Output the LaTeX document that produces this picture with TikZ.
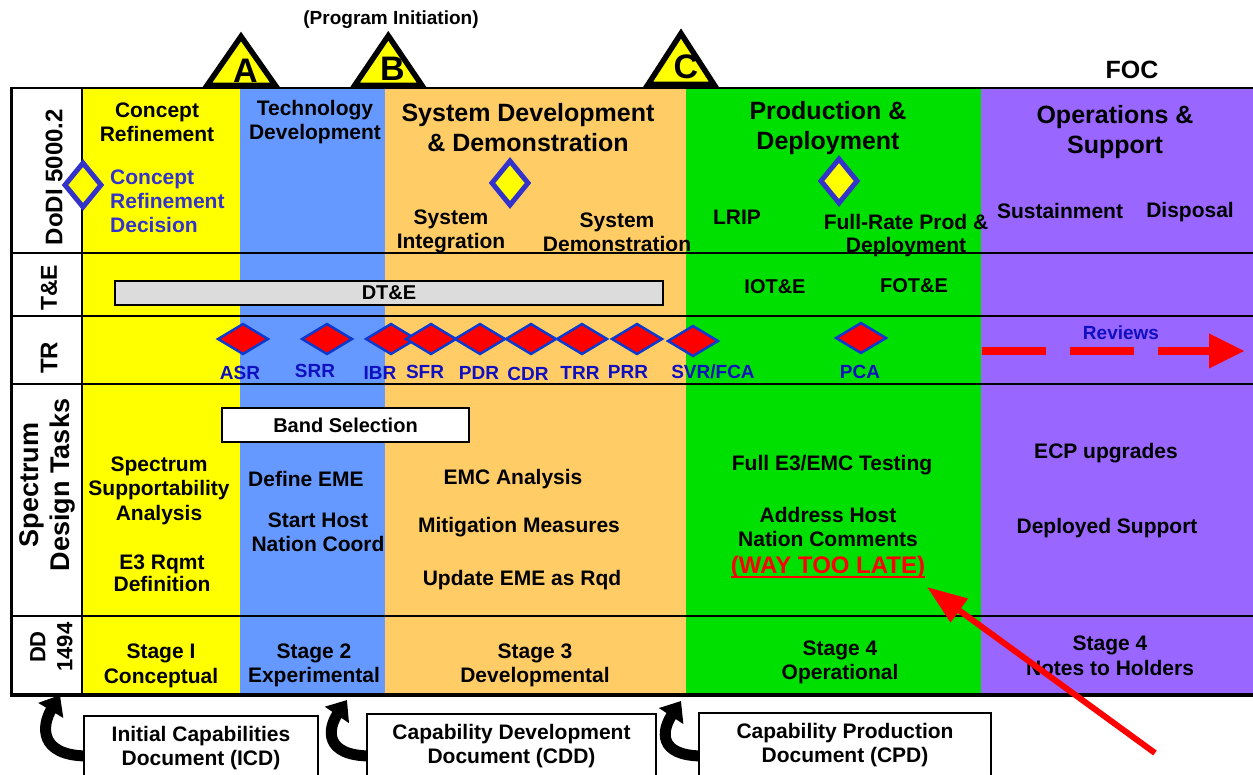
\documentclass[tikz,border=0pt]{standalone}
\usepackage{fontspec}
\setmainfont{Liberation Sans}
\usetikzlibrary{shapes.geometric,arrows.meta,calc}
\definecolor{cyel}{HTML}{FFFF00}
\definecolor{cblu}{HTML}{6699FF}
\definecolor{cora}{HTML}{FFCC66}
\definecolor{cgrn}{HTML}{00E000}
\definecolor{cpur}{HTML}{9966FF}
\definecolor{dblue}{HTML}{3333CC}
\definecolor{rblue}{HTML}{0A3AD0}
\definecolor{tblue}{HTML}{1010C0}
\definecolor{bargray}{HTML}{DCDCDC}
\newcommand\myfs[2]{\fontsize{#1}{#2}\selectfont\bfseries}
\begin{document}
\begin{tikzpicture}[x=1pt,y=-1pt,
  txt/.style={font=\myfs{21}{24}, align=center, inner sep=0pt},
  ttl/.style={font=\myfs{25}{30}, align=center, inner sep=0pt},
  rlab/.style={font=\myfs{19}{22}, text=tblue, inner sep=0pt},
  vlab/.style={rotate=90, align=center, inner sep=0pt},
  gatefill/.style={fill=cyel},
  gateline/.style={draw=black, line width=5.5pt, line join=miter},
  gatelet/.style={font=\myfs{34}{38}, inner sep=0pt, anchor=base},
  mdia/.style={shape=diamond, draw=dblue, line width=5pt, fill=cyel, minimum width=38pt, minimum height=46pt, inner sep=0pt},
  rdia/.style={shape=diamond, draw=rblue, line width=2.5pt, fill=red, minimum width=51pt, minimum height=31pt, inner sep=0pt},
  docbox/.style={draw=black, line width=2pt, fill=white, align=center, font=\myfs{21}{24}, inner sep=0pt},
  curv/.style={line width=11pt, -{Triangle[length=18pt,width=28pt]}},
  gridline/.style={draw=black, line width=2pt}
]
\clip (0,0) rectangle (1253,775);
\fill[white] (0,0) rectangle (1253,775);
% phase columns
\fill[cyel] (82,88) rectangle (240,694);
\fill[cblu] (240,88) rectangle (385,694);
\fill[cora] (385,88) rectangle (686,694);
\fill[cgrn] (686,88) rectangle (981,694);
\fill[cpur] (981,88) rectangle (1253,694);
% bars
\node[draw=black, line width=1.5pt, fill=bargray, minimum width=548pt, minimum height=24pt, inner sep=0pt, font=\myfs{20}{24}] (dte) at (389,293) {DT\&E};
\node[draw=black, line width=1.5pt, fill=white, minimum width=247pt, minimum height=34pt, inner sep=0pt, font=\myfs{20}{24}] (band) at (345.5,425) {Band Selection};
% grid lines
\draw[gridline] (10,88) -- (1253,88);
\draw[gridline] (10,253) -- (1253,253);
\draw[gridline] (10,316) -- (1253,316);
\draw[gridline] (10,384) -- (1253,384);
\draw[gridline] (10,616) -- (1253,616);
\draw[black, line width=3.5pt] (10,695) -- (1253,695);
\draw[black, line width=3pt] (11,88) -- (11,696);
\draw[gridline] (82,88) -- (82,694);
% milestone triangles
\fill[gatefill] (207,85.5) -- (241,36.5) -- (275.4,85.5) -- cycle;
\node[gatelet] (ga) at (245.5,82.5) {A};
\draw[gateline] (207,85.5) -- (241,36.5) -- (275.4,85.5) -- cycle;
\fill[gatefill] (354.6,85.5) -- (388.3,35.8) -- (422,85.5) -- cycle;
\node[gatelet] (gb) at (392.5,80.5) {B};
\draw[gateline] (354.6,85.5) -- (388.3,35.8) -- (422,85.5) -- cycle;
\fill[gatefill] (648,84.5) -- (681,33.5) -- (714,84.5) -- cycle;
\node[gatelet] (gc) at (686,79) {C};
\draw[gateline] (648,84.5) -- (681,33.5) -- (714,84.5) -- cycle;
\node[font=\myfs{19}{22}, inner sep=0pt] (pi) at (391,20) {(Program Initiation)};
\node[font=\myfs{25}{30}, inner sep=0pt] (foc) at (1132,70) {FOC};
% row labels
\node[vlab, font=\myfs{24}{28}] (l1) at (54,177) {DoDI 5000.2};
\node[vlab, font=\myfs{23}{27}] (l2) at (49,288) {T\&E};
\node[vlab, font=\myfs{24}{28}] (l3) at (49,358) {TR};
\node[vlab, font=\myfs{27}{31}] (l4) at (47,485) {Spectrum\\Design Tasks};
\node[vlab, font=\myfs{22}{27}] (l5) at (51.5,647) {DD\\1494};
% row 1
\node[txt] (cr) at (157,122.5) {Concept\\Refinement};
\node[mdia] (crd) at (83,185) {};
\node[txt, align=left, anchor=west, text=dblue] (crdt) at (110,201) {Concept\\Refinement\\Decision};
\node[txt] (td) at (315,122.5) {Technology\\Development};
\node[ttl] (sdd) at (528,128) {System Development\\\& Demonstration};
\node[mdia] (d2) at (510,183) {};
\node[txt] (si) at (451,231) {System\\Integration};
\node[txt] (sd) at (617,232) {System\\Demonstration};
\node[ttl] (pd) at (828,128) {Production \&\\Deployment};
\node[mdia] (d3) at (839,181) {};
\node[txt] (lrip) at (737,217) {LRIP};
\node[txt, font=\myfs{21}{23}] (frp) at (906,235.5) {Full-Rate Prod \&\\Deployment};
\node[ttl] (os) at (1115,132) {Operations \&\\Support};
\node[txt] (sus) at (1060,211) {Sustainment};
\node[txt] (disp) at (1190,212) {Disposal};
% row 2
\node[txt, font=\myfs{20}{24}] (iot) at (775,287) {IOT\&E};
\node[txt, font=\myfs{20}{24}] (fot) at (914,286) {FOT\&E};
% row 3 diamonds
\node[rdia] (asr) at (243,339) {};
\node[rdia] (srr) at (327,339) {};
\node[rdia] (ibr) at (391,339) {};
\node[rdia] (sfr) at (431,339) {};
\node[rdia] (pdr) at (480,339) {};
\node[rdia] (cdr) at (531,339) {};
\node[rdia] (trr) at (582,339) {};
\node[rdia] (prr) at (637,339) {};
\node[rdia] (svr) at (693,341) {};
\node[rdia] (pca) at (861,338) {};
\node[rlab] at (240,373) {ASR};
\node[rlab] at (315,371) {SRR};
\node[rlab] at (380,373) {IBR};
\node[rlab] at (425,372) {SFR};
\node[rlab] at (479,373) {PDR};
\node[rlab] at (528,374) {CDR};
\node[rlab] at (580,373) {TRR};
\node[rlab] at (628,372) {PRR};
\node[rlab] at (713,372) {SVR/FCA};
\node[rlab] at (860,372) {PCA};
\node[rlab] (rev) at (1121,333) {Reviews};
\coordinate (rv1) at (982,351);
\coordinate (rv2) at (1209,351);
\draw[red, line width=8pt, dash pattern=on 64pt off 24pt] (rv1) -- (rv2);
\fill[red] (1209,333.5) -- (1244,351) -- (1209,368.5) -- cycle;
% row 4
\node[txt, font=\myfs{21}{24.5}] (ssa) at (159,490.5) {Spectrum\\Supportability\\Analysis};
\node[txt, font=\myfs{21}{22}] (e3) at (162,573) {E3 Rqmt\\Definition};
\node[txt] (deme) at (306,479) {Define EME};
\node[txt] (shn) at (318,532) {Start Host\\Nation Coord};
\node[txt] (emc) at (513,479) {EMC Analysis};
\node[txt] (mit) at (519,527) {Mitigation Measures};
\node[txt] (upd) at (522,580) {Update EME as Rqd};
\node[txt] (fet) at (832,465) {Full E3/EMC Testing};
\node[txt] (ahn) at (828,527) {Address Host\\Nation Comments};
\node[txt, font=\myfs{24}{28}, text=red] (late) at (828,567) {(WAY TOO LATE)};
\draw[red, line width=2.5pt] ([yshift=1.5pt]late.south west) -- ([yshift=1.5pt]late.south east);
\node[txt] (ecp) at (1106,453) {ECP upgrades};
\node[txt] (dep) at (1107,528) {Deployed Support};
% row 5
\node[txt, font=\myfs{21}{25}] (s1) at (161,665.5) {Stage I\\Conceptual};
\node[txt] (s2) at (314,665) {Stage 2\\Experimental};
\node[txt] (s3) at (535,665) {Stage 3\\Developmental};
\node[txt] (s4) at (840,662) {Stage 4\\Operational};
\node[txt, font=\myfs{21}{25}] (s5) at (1110,655.5) {Stage 4\\Notes to Holders};
% curved arrows to documents
\coordinate (t1) at (60,695);
\coordinate (t2) at (347,700);
\coordinate (t3) at (681,701);
\draw[curv] (88,756) .. controls (38,756) and (42,725) .. (t1);
\draw[curv] (371,756) .. controls (323,756) and (328,728) .. (t2);
\draw[curv] (703,756) .. controls (657,756) and (662,730) .. (t3);
\node[docbox, minimum width=234pt, minimum height=64pt] (icd) at (201,748) {Initial Capabilities\\Document (ICD)};
\node[docbox, minimum width=289pt, minimum height=64pt] (cdd) at (511.5,746) {Capability Development\\Document (CDD)};
\node[docbox, minimum width=292pt, minimum height=64pt] (cpd) at (845,745) {Capability Production\\Document (CPD)};
% red pointer arrow
\coordinate (rs) at (1155,753);
\coordinate (rt) at (927,587);
\draw[red, line width=6pt, -{Triangle[length=40pt,width=28pt]}] (rs) -- (rt);
\end{tikzpicture}
\end{document}
